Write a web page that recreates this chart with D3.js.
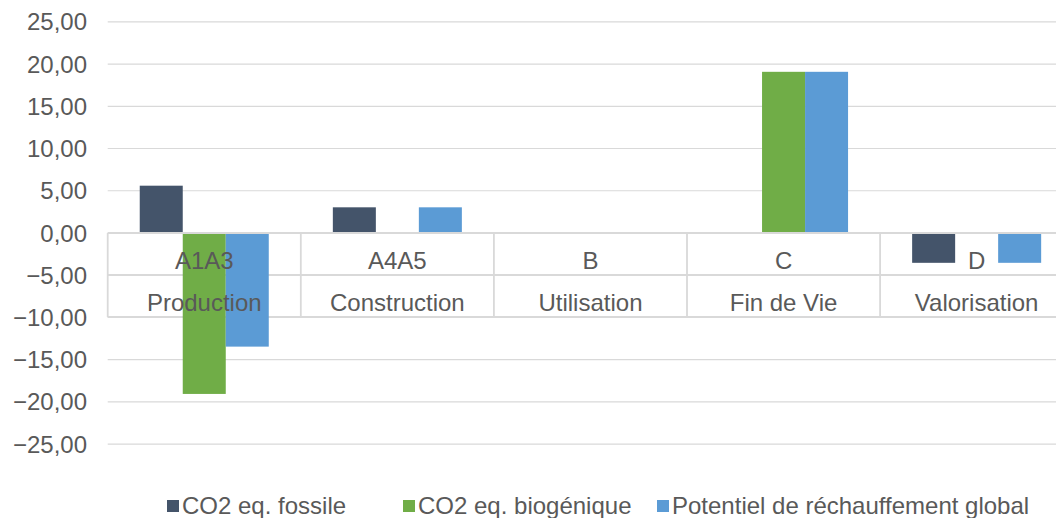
<!DOCTYPE html>
<html lang="fr">
<head>
<meta charset="utf-8">
<script src="https://cdn.jsdelivr.net/npm/d3@7"></script>
<style>
  html, body { margin: 0; padding: 0; background: #ffffff; }
  svg { display: block; }
  text { font-family: "Liberation Sans", Arial, sans-serif; fill: #595959; }
</style>
</head>
<body>
<svg id="chart" width="1056" height="518"></svg>
<script>
// Life-cycle stages (two-level category axis)
const stageCodes = ["A1A3", "A4A5", "B", "C", "D"];
const stageNames = ["Production", "Construction", "Utilisation", "Fin de Vie", "Valorisation"];

// Series values, kg CO2 eq.
const seriesNames = ["CO2 eq. fossile", "CO2 eq. biogénique", "Potentiel de réchauffement global"];
const fossile    = [5.6, 3.04, 0, 0, -3.53];
const biogenique = [-19.05, 0, 0, 19.08, 0];
const prg        = [-13.45, 3.04, 0, 19.08, -3.53];
const seriesColors = ["#44546A", "#70AD47", "#5B9BD5"];

// Y-axis ticks
const yTicks = [25, 20, 15, 10, 5, 0, -5, -10, -15, -20, -25];

const seriesValues = [fossile, biogenique, prg];
const rows = stageCodes.map((code, i) => ({
  code, name: stageNames[i],
  values: seriesValues.map((vals, s) => ({ series: seriesNames[s], value: vals[i], color: seriesColors[s] }))
}));

const svg = d3.select("#chart");
const plotLeft = 107.7, step = 193.1;
const x0 = d3.scaleBand().domain(stageCodes)
  .range([plotLeft, plotLeft + step * stageCodes.length]).padding(0);
const x1 = d3.scaleBand().domain(seriesNames)
  .range([0, x0.bandwidth()]).paddingInner(0).paddingOuter(0.745);
const y = d3.scaleLinear().domain([-25, 25]).range([444.2, 21.8]);

const frFormat = d3.formatLocale({ decimal: ",", thousands: " ", grouping: [3], currency: ["", " €"] }).format(".2f");

const gridColor = "#d9d9d9";
const plotRight = x0.range()[1];

// Horizontal gridlines
svg.append("g").selectAll("line").data(yTicks).join("line")
  .attr("x1", plotLeft).attr("x2", plotRight)
  .attr("y1", d => y(d)).attr("y2", d => y(d))
  .attr("stroke", gridColor).attr("stroke-width", 1.2);

// Y tick labels
svg.append("g").selectAll("text").data(yTicks).join("text")
  .attr("x", 87).attr("y", d => y(d))
  .attr("text-anchor", "end").attr("dominant-baseline", "central")
  .attr("font-size", 24)
  .text(d => frFormat(d));

// Category table frame (two label rows under the zero line)
const rowH = 42;
const tableTop = y(0);
const table = svg.append("g");
const boundaries = stageCodes.map(c => x0(c)).concat([plotRight]);
table.selectAll("line.v").data(boundaries).join("line")
  .attr("class", "v")
  .attr("x1", d => d).attr("x2", d => d)
  .attr("y1", tableTop).attr("y2", tableTop + 2 * rowH)
  .attr("stroke", gridColor).attr("stroke-width", 1.8);
table.selectAll("line.h").data([1, 2]).join("line")
  .attr("class", "h")
  .attr("x1", plotLeft).attr("x2", plotRight)
  .attr("y1", d => tableTop + d * rowH).attr("y2", d => tableTop + d * rowH)
  .attr("stroke", gridColor).attr("stroke-width", 1.8);

// Bars
svg.append("g").selectAll("g").data(rows).join("g")
  .attr("transform", d => `translate(${x0(d.code)},0)`)
  .selectAll("rect").data(d => d.values.filter(v => v.value !== 0)).join("rect")
  .attr("x", d => x1(d.series))
  .attr("width", x1.bandwidth())
  .attr("y", d => Math.min(y(d.value), y(0)))
  .attr("height", d => Math.abs(y(d.value) - y(0)))
  .attr("fill", d => d.color);

// Zero axis line
svg.append("line")
  .attr("x1", plotLeft).attr("x2", plotRight)
  .attr("y1", y(0)).attr("y2", y(0))
  .attr("stroke", gridColor).attr("stroke-width", 1.8);

// Category labels
const labels = svg.append("g").selectAll("g").data(rows).join("g")
  .attr("transform", d => `translate(${x0(d.code) + x0.bandwidth() / 2},0)`);
labels.append("text")
  .attr("y", tableTop + 36).attr("text-anchor", "middle").attr("font-size", 24)
  .text(d => d.code);
labels.append("text")
  .attr("y", tableTop + rowH + 36).attr("text-anchor", "middle").attr("font-size", 24)
  .text(d => d.name);

// Legend
const legendX = [167, 403, 657];
const legend = svg.append("g").selectAll("g").data(seriesNames).join("g")
  .attr("transform", (d, i) => `translate(${legendX[i]},0)`);
legend.append("rect")
  .attr("x", 0).attr("y", 500).attr("width", 12).attr("height", 12)
  .attr("fill", (d, i) => seriesColors[i]);
legend.append("text")
  .attr("x", 15).attr("y", 514).attr("font-size", 24)
  .text(d => d);
</script>
</body>
</html>
